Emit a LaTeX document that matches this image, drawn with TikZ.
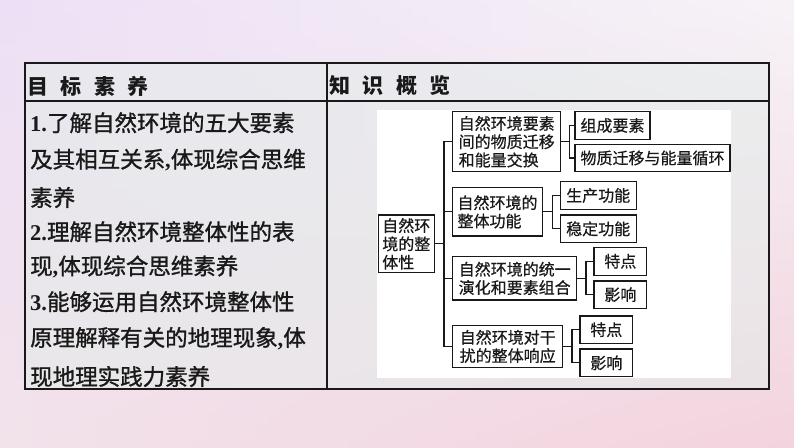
\documentclass[tikz,border=0pt]{standalone}
\usepackage{fontspec}
\setmainfont{Liberation Serif}
\newfontfamily\cjk{Noto Sans CJK SC}
\newfontfamily\cjkb[FakeBold=1.2]{Noto Sans CJK SC}
\newfontfamily\cjkm[FakeBold=0.6]{Noto Sans CJK SC}
\newcommand\zcomma{{\normalfont\bfseries ,}}
\newcommand\znum[1]{{\normalfont\bfseries #1}}
\definecolor{cTL}{RGB}{237,224,246}
\definecolor{cTR}{RGB}{246,243,247}
\definecolor{cBL}{RGB}{242,226,234}
\definecolor{cBR}{RGB}{243,211,222}
\definecolor{tabfill}{RGB}{228,237,234}
\definecolor{ink}{RGB}{25,25,25}
\tikzset{
  ltext/.style={anchor=west, inner sep=0, text=ink, font=\cjkb\fontsize{22.5}{27}\selectfont},
  htext/.style={anchor=west, inner sep=0, text=ink, font=\cjk\bfseries\fontsize{21}{25}\selectfont},
  box/.style={draw=ink, line width=1.1pt, fill=white, inner sep=0, align=left, text=ink,
              font=\cjkm\fontsize{16}{18.3}\selectfont},
  link/.style={draw=ink, line width=1.1pt},
  frame/.style={draw=ink, line width=1.5pt}
}
\begin{document}
\begin{tikzpicture}[x=1pt,y=-1pt]
\useasboundingbox (0,0) rectangle (794,447);
% background: vertical strips, each shaded top to bottom
\foreach \i in {0,...,49}{
  \pgfmathtruncatemacro{\p}{round(100*\i/49)}
  \pgfmathsetmacro{\xa}{\i*15.88}
  \pgfmathsetmacro{\xb}{\i*15.88+16.6}
  \colorlet{ctop}{cTR!\p!cTL}
  \colorlet{cbot}{cBR!\p!cBL}
  \shade[top color=ctop, bottom color=cbot] (\xa,0) rectangle (\xb,447);
}
% table
\fill[tabfill, fill opacity=0.55] (25,63) rectangle (769,389);
\fill[white] (377,110) rectangle (730.5,377.5);
\draw[frame] (25,63) rectangle (769,389);
\draw[frame] (25,101) -- (769,101);
\draw[frame] (327,63) -- (327,389);
\draw[draw=ink, line width=2pt] (25,389) -- (769,389);
% headers
\node[htext] (h1) at (27,86) {目\hspace{12.5pt}标\hspace{12.5pt}素\hspace{12.5pt}养};
\node[htext] (h2) at (329,86) {知\hspace{12.5pt}识\hspace{12.5pt}概\hspace{12.5pt}览};
% left text
\node[ltext] (l1) at (30,122.7) {\znum{1.}了解自然环境的五大要素};
\node[ltext] (l2) at (30,160) {及其相互关系\zcomma 体现综合思维};
\node[ltext] (l3) at (30,197.5) {素养};
\node[ltext] (l4) at (30,231.7) {\znum{2.}理解自然环境整体性的表};
\node[ltext] (l5) at (30,266.7) {现\zcomma 体现综合思维素养};
\node[ltext] (l6) at (30,301.7) {\znum{3.}能够运用自然环境整体性};
\node[ltext] (l7) at (30,338.3) {原理解释有关的地理现象\zcomma 体};
\node[ltext] (l8) at (30,376.5) {现地理实践力素养};
% diagram boxes
\node[box, minimum width=56pt, minimum height=57.7pt] (root) at (406.3,243.85) {自然环\\境的整\\体性};
\node[box, minimum width=108pt, minimum height=60pt] (A) at (506.7,141.7) {自然环境要素\\间的物质迁移\\和能量交换};
\node[box, minimum width=75pt, minimum height=27.6pt] (A1) at (612.5,125.5) {组成要素};
\node[box, minimum width=155pt, minimum height=27.4pt] (A2) at (652.5,158) {物质迁移与能量循环};
\node[box, minimum width=89.6pt, minimum height=48.3pt] (B) at (497.5,211.85) {自然环境的\\整体功能\hspace{16pt}};
\node[box, minimum width=75.7pt, minimum height=27.6pt] (B1) at (598.2,195.5) {生产功能};
\node[box, minimum width=75.7pt, minimum height=27.7pt] (B2) at (598.2,228.85) {稳定功能};
\node[box, minimum width=124pt, minimum height=43.3pt] (C) at (514.7,278.35) {自然环境的统一\\演化和要素组合};
\node[box, minimum width=52.7pt, minimum height=28pt] (C1) at (620.35,261.3) {特点};
\node[box, minimum width=52.7pt, minimum height=27.3pt] (C2) at (620.35,294.65) {影响};
\node[box, minimum width=110pt, minimum height=41.6pt] (D) at (507.7,346.5) {自然环境对干\\扰的整体响应};
\node[box, minimum width=52.7pt, minimum height=27.3pt] (D1) at (606.35,329.65) {特点};
\node[box, minimum width=52.7pt, minimum height=27.7pt] (D2) at (606.35,362.85) {影响};
% trunk coordinates
\coordinate (tx) at (444,0);
\coordinate (ax) at (569.5,0);
\coordinate (bx) at (552.5,0);
\coordinate (cx) at (586,0);
\coordinate (dx) at (572,0);
% connectors
\draw[link] (root.east) -- (root.east -| tx);
\draw[link] (A.west) -- (A.west -| tx) -- (D.west -| tx) -- (D.west);
\draw[link] (B.west) -- (B.west -| tx);
\draw[link] (C.west) -- (C.west -| tx);
\draw[link] (A.east) -- (A.east -| ax);
\draw[link] (A1.west) -- (A1.west -| ax) -- (A2.west -| ax) -- (A2.west);
\draw[link] (B.east) -- (B.east -| bx);
\draw[link] (B1.west) -- (B1.west -| bx) -- (B2.west -| bx) -- (B2.west);
\draw[link] (C.east) -- (C.east -| cx);
\draw[link] (C1.west) -- (C1.west -| cx) -- (C2.west -| cx) -- (C2.west);
\draw[link] (D.east) -- (D.east -| dx);
\draw[link] (D1.west) -- (D1.west -| dx) -- (D2.west -| dx) -- (D2.west);
\end{tikzpicture}
\end{document}
